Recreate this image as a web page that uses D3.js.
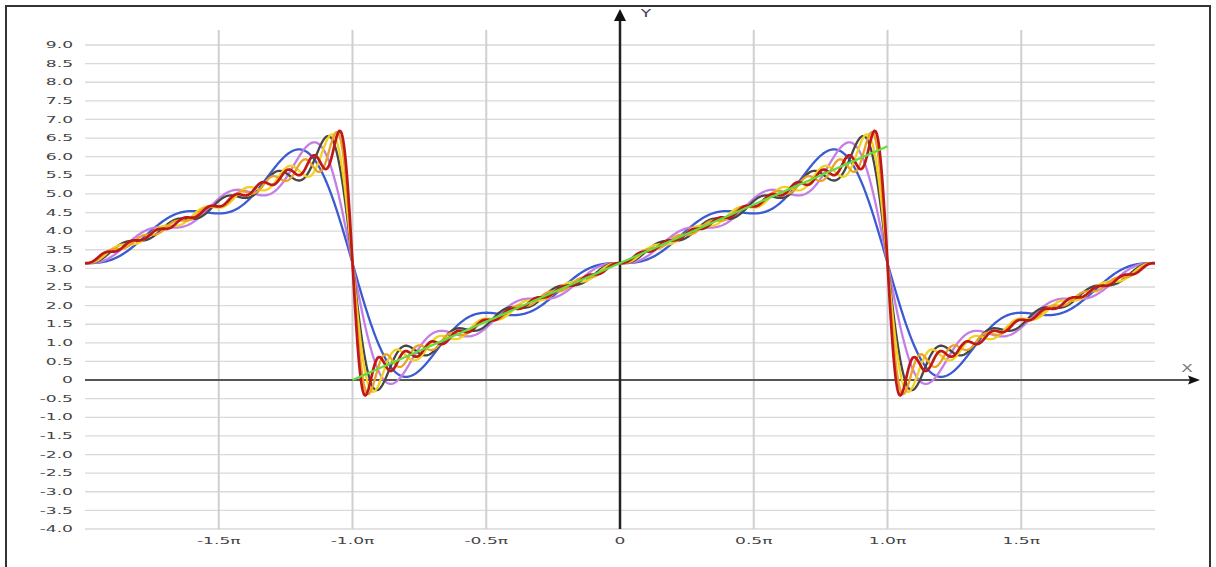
<!doctype html>
<html lang="en">
<head>
<meta charset="utf-8">
<title>Fourier partial sums of x + π</title>
<script src="https://d3js.org/d3.v7.min.js"></script>
<style>
  body { margin: 0; background: #fff; }
  svg { display: block; }
  .tick-label { font-family: "DejaVu Sans", sans-serif; font-size: 9px; fill: #444; }
</style>
</head>
<body>
<svg id="chart" width="1216" height="567"></svg>
<script>
// partial sums: number of harmonics in each curve
var harmonics = [4, 6, 10, 12, 16, 20];
var seriesColors = ["#3b5bd0", "#c57ee6", "#474747", "#f2d21e", "#eba225", "#c01818"];
var seriesWidths = [2.3, 2.3, 2.3, 2.3, 2.3, 2.7];

// target function x + π on one period
var targetX = [-Math.PI, Math.PI];
var targetY = [0, 2 * Math.PI];

var yTicks = [9, 8.5, 8, 7.5, 7, 6.5, 6, 5.5, 5, 4.5, 4, 3.5, 3, 2.5, 2, 1.5, 1, 0.5, 0,
  -0.5, -1, -1.5, -2, -2.5, -3, -3.5, -4];
var yTickLabels = ["9.0", "8.5", "8.0", "7.5", "7.0", "6.5", "6.0", "5.5", "5.0", "4.5", "4.0",
  "3.5", "3.0", "2.5", "2.0", "1.5", "1.0", "0.5", "0", "-0.5", "-1.0", "-1.5", "-2.0", "-2.5",
  "-3.0", "-3.5", "-4.0"];
var xTicks = [-1.5, -1, -0.5, 0, 0.5, 1, 1.5];   // multiples of π
var xTickLabels = ["-1.5π", "-1.0π", "-0.5π", "0", "0.5π", "1.0π", "1.5π"];

var svg = d3.select("#chart");
var x = d3.scaleLinear().domain([-2 * Math.PI, 2 * Math.PI]).range([85, 1155]);
var y = d3.scaleLinear().domain([-4, 9]).range([529, 45]);

// frame
svg.append("rect").attr("x", 6).attr("y", 6).attr("width", 1204).attr("height", 600)
  .attr("fill", "none").attr("stroke", "#333").attr("stroke-width", 2);

// grid
svg.append("g").selectAll("line").data(yTicks).enter().append("line")
  .attr("x1", x.range()[0]).attr("x2", x.range()[1])
  .attr("y1", function(d) { return y(d); }).attr("y2", function(d) { return y(d); })
  .attr("stroke", "#d9d9d9").attr("stroke-width", 1.3);
svg.append("g").selectAll("line").data(xTicks.filter(function(d) { return d !== 0; })).enter().append("line")
  .attr("x1", function(d) { return x(d * Math.PI); }).attr("x2", function(d) { return x(d * Math.PI); })
  .attr("y1", 30).attr("y2", y(-4))
  .attr("stroke", "#cfcfcf").attr("stroke-width", 2);

// tick labels (stretched sideways like the original)
svg.append("g").selectAll("g").data(yTicks).enter().append("g")
  .attr("transform", function(d) { return "translate(73," + y(d) + ") scale(1.9,1)"; })
  .append("text").attr("class", "tick-label").attr("text-anchor", "end").attr("dy", "0.35em")
  .text(function(d, i) { return yTickLabels[i]; });
svg.append("g").selectAll("g").data(xTicks).enter().append("g")
  .attr("transform", function(d) { return "translate(" + x(d * Math.PI) + ",541) scale(1.9,1)"; })
  .append("text").attr("class", "tick-label").attr("text-anchor", "middle").attr("dy", "0.35em")
  .text(function(d, i) { return xTickLabels[i]; });

// axes with arrows
var x0 = x(0), y0 = y(0);
svg.append("line").attr("x1", x.range()[0]).attr("x2", 1190).attr("y1", y0).attr("y2", y0)
  .attr("stroke", "#555").attr("stroke-width", 2);
svg.append("path").attr("d", "M1200," + y0 + "L1188," + (y0 - 4.5) + "L1190," + y0 + "L1188," + (y0 + 4.5) + "Z")
  .attr("fill", "#111");
svg.append("line").attr("x1", x0).attr("x2", x0).attr("y1", y(-4)).attr("y2", 20)
  .attr("stroke", "#222").attr("stroke-width", 2.5);
svg.append("path").attr("d", "M" + x0 + ",9L" + (x0 + 6) + ",21L" + (x0 - 6) + ",21Z").attr("fill", "#111");
svg.append("g").attr("transform", "translate(1187,368) scale(1.7,1)")
  .append("text").attr("class", "tick-label").attr("text-anchor", "middle").attr("dy", "0.35em")
  .style("font-size", "10px").style("fill", "#777").text("X");
svg.append("g").attr("transform", "translate(646,13) scale(1.7,1)")
  .append("text").attr("class", "tick-label").attr("text-anchor", "middle").attr("dy", "0.35em")
  .style("font-size", "10px").style("fill", "#4a3a5a").text("Y");

// partial Fourier sums  π + 2 Σ (-1)^(n+1) sin(nx)/n
var samples = d3.range(0, 1601).map(function(i) { return -2 * Math.PI + i * 4 * Math.PI / 1600; });
function partialSum(t, N) {
  var s = Math.PI;
  for (var n = 1; n <= N; n++) s += 2 * (n % 2 ? 1 : -1) * Math.sin(n * t) / n;
  return s;
}
var line = d3.line().x(function(d) { return x(d[0]); }).y(function(d) { return y(d[1]); });

svg.append("g").selectAll("path").data(harmonics).enter().append("path")
  .attr("d", function(N) { return line(samples.map(function(t) { return [t, partialSum(t, N)]; })); })
  .attr("fill", "none")
  .attr("stroke", function(d, i) { return seriesColors[i]; })
  .attr("stroke-width", function(d, i) { return seriesWidths[i]; })
  .attr("stroke-linejoin", "round");

svg.append("path").attr("d", line(targetX.map(function(t, i) { return [t, targetY[i]]; })))
  .attr("fill", "none").attr("stroke", "#62dd3e").attr("stroke-width", 2.2);
</script>
</body>
</html>
